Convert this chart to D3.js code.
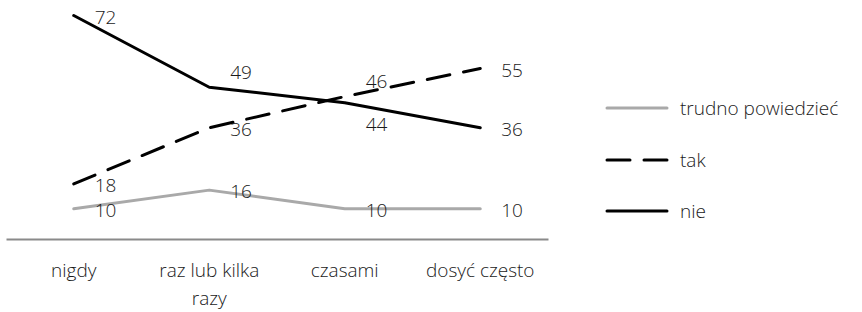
<!DOCTYPE html>
<html>
<head>
<meta charset="utf-8">
<script src="https://cdn.jsdelivr.net/npm/d3@7"></script>
<style>
  body { margin: 0; background: #fff; }
  text { font-family: "Open Sans", sans-serif; font-weight: 300; fill: #1a1a1a; }
</style>
</head>
<body>
<div id="chart"></div>
<script>
// Data
var categories = ["nigdy", "raz lub kilka razy", "czasami", "dosyć często"];
var seriesNames = ["trudno powiedzieć", "tak", "nie"];
var trudno = [10, 16, 10, 10];
var tak = [18, 36, 46, 55];
var nie = [72, 49, 44, 36];

// label nudges (px, vertical) so the numbers don't sit on top of each other
var labelNudge = [[0, 0, 0, 0], [0, 0, -17, 0], [0, -16, 20, 0]];

var svgWidth = 862;
var svgHeight = 312;

var svg = d3.select("#chart")
  .append("svg")
  .attr("width", svgWidth)
  .attr("height", svgHeight);

var x = d3.scaleBand()
  .domain(categories)
  .range([6, 548]);

var y = d3.scaleLinear()
  .domain([0, 72])
  .range([240, 15.5]);

var styles = [
  { color: "#a9a9a9", dash: null },
  { color: "#000", dash: "23,14" },
  { color: "#000", dash: null }
];

var allSeries = [trudno, tak, nie];

// x axis line
var xAxis = d3.axisBottom(x).tickSize(0).tickFormat("");
var axisG = svg.append("g")
  .attr("transform", "translate(0,239)")
  .call(xAxis);
axisG.select(".domain").attr("stroke", "#8a8a8a").attr("stroke-width", 2);

// category labels, wrapped
categories.forEach(function(c) {
  var lines = c === "raz lub kilka razy" ? ["raz lub kilka", "razy"] : [c];
  var t = svg.append("text")
    .attr("x", x(c) + x.bandwidth() / 2)
    .attr("y", 277)
    .attr("text-anchor", "middle")
    .style("font-size", "19px");
  lines.forEach(function(l, i) {
    t.append("tspan")
      .attr("x", x(c) + x.bandwidth() / 2)
      .attr("dy", i === 0 ? 0 : 28)
      .text(l);
  });
});

var line = d3.line()
  .x(function(d, i) { return x(categories[i]) + x.bandwidth() / 2; })
  .y(function(d) { return y(d); });

// lines
allSeries.forEach(function(s, k) {
  svg.append("path")
    .datum(s)
    .attr("d", line)
    .attr("fill", "none")
    .attr("stroke", styles[k].color)
    .attr("stroke-width", 3)
    .attr("stroke-linecap", "round")
    .attr("stroke-linejoin", "round")
    .attr("stroke-dasharray", styles[k].dash);
});

// value labels
allSeries.forEach(function(s, k) {
  svg.selectAll(null)
    .data(s)
    .enter()
    .append("text")
    .attr("x", function(d, i) { return x(categories[i]) + x.bandwidth() / 2 + 21; })
    .attr("y", function(d, i) { return y(d) + 1 + labelNudge[k][i]; })
    .attr("dominant-baseline", "central")
    .style("font-size", "19px")
    .text(function(d) { return d; });
});

// legend
var legend = svg.append("g");
var legendY = [108, 160, 211];
seriesNames.forEach(function(n, k) {
  legend.append("line")
    .attr("x1", 607).attr("x2", 667)
    .attr("y1", legendY[k]).attr("y2", legendY[k])
    .attr("stroke", styles[k].color)
    .attr("stroke-width", 3)
    .attr("stroke-linecap", "round")
    .attr("stroke-dasharray", styles[k].dash);
  legend.append("text")
    .attr("x", 680)
    .attr("y", legendY[k])
    .attr("dominant-baseline", "central")
    .style("font-size", "19px")
    .text(n);
});
</script>
</body>
</html>
